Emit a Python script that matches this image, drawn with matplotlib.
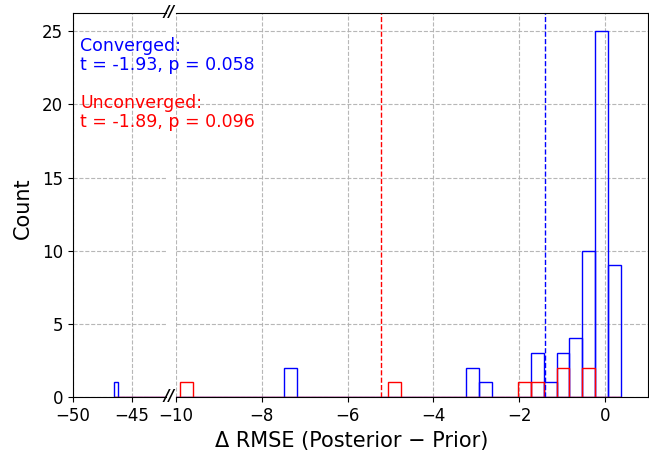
import numpy as np
import matplotlib
matplotlib.use("Agg")
import matplotlib.pyplot as plt

# histogram bins shared by both groups
BIN_LO = -46.5
BIN_HI = 0.38
N_BINS = 155

# bin centres with non-zero counts, and their counts
conv_centres = [-46.35, -7.33, -3.09, -2.79, -1.58, -1.28, -0.98, -0.68, -0.38, -0.08, 0.23]
conv_counts = [1, 2, 2, 1, 3, 1, 3, 4, 10, 25, 9]
unconv_centres = [-9.75, -4.91, -1.89, -1.58, -0.98, -0.38]
unconv_counts = [1, 1, 1, 1, 2, 2]

# mean lines
conv_mean = -1.40
unconv_mean = -5.23

conv_text = "Converged:\nt = -1.93, p = 0.058"
unconv_text = "Unconverged:\nt = -1.89, p = 0.096"

W, H = 649, 453
fig = plt.figure(figsize=(W / 100, H / 100), dpi=100)
bot, top = 397, 13
ax1 = fig.add_axes([73 / W, (H - bot) / H, (166 - 73) / W, (bot - top) / H])
ax2 = fig.add_axes([176 / W, (H - bot) / H, (648 - 176) / W, (bot - top) / H])

edges = np.linspace(BIN_LO, BIN_HI, N_BINS + 1)

for ax in (ax1, ax2):
    ax.hist(conv_centres, bins=edges, weights=conv_counts, fill=False,
            edgecolor="blue", linewidth=1.0)
    ax.hist(unconv_centres, bins=edges, weights=unconv_counts, fill=False,
            edgecolor="red", linewidth=1.0)
    ax.axvline(conv_mean, color="blue", linestyle="--", linewidth=1.0)
    ax.axvline(unconv_mean, color="red", linestyle="--", linewidth=1.0)
    ax.set_ylim(0, 26.25)
    ax.grid(True, linestyle="--", color="#b0b0b0", linewidth=0.8, alpha=0.9)
    ax.set_axisbelow(True)
    ax.tick_params(labelsize=12)

ax1.set_xlim(-50, -42.1)
ax1.set_xticks([-50, -45])
ax1.set_yticks([0, 5, 10, 15, 20, 25])
ax1.spines["right"].set_visible(False)

ax2.set_xlim(-10, 1.0)
ax2.set_xticks([-10, -8, -6, -4, -2, 0])
ax2.set_yticks([0, 5, 10, 15, 20, 25])
ax2.spines["left"].set_visible(False)
ax2.tick_params(axis="y", left=False, labelleft=False)

# break marks
for yy in (top, bot):
    fig.text(169 / W, (H - yy) / H, "//", ha="center", va="center",
             fontsize=11, fontweight="bold", style="italic")

fig.text(23 / W, (H - 208) / H, "Count", rotation=90, ha="center",
         va="center", fontsize=15)
fig.text(352 / W, (H - 441) / H, "Δ RMSE (Posterior − Prior)", ha="center",
         va="center", fontsize=15)

fig.text(80 / W, (H - 37) / H, conv_text, color="blue", fontsize=12.5,
         ha="left", va="top", linespacing=1.1)
fig.text(80 / W, (H - 94) / H, unconv_text, color="red", fontsize=12.5,
         ha="left", va="top", linespacing=1.1)

fig.savefig("out.png", dpi=100)
